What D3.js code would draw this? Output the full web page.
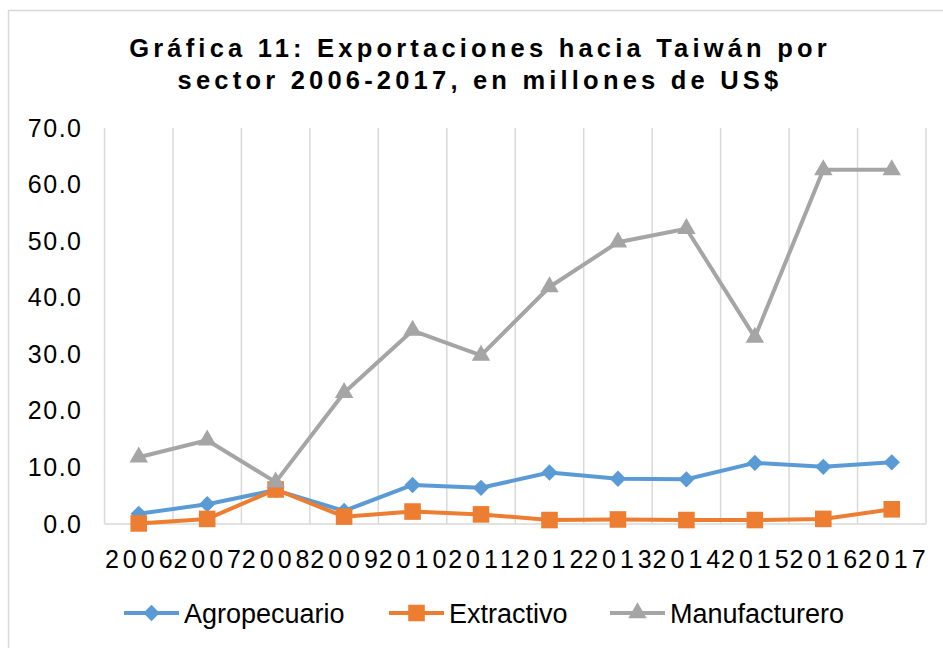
<!DOCTYPE html>
<html>
<head>
<meta charset="utf-8">
<script src="https://cdn.jsdelivr.net/npm/d3@7"></script>
<style>
  body { margin: 0; background: #fff; }
  svg { display: block; font-family: "Liberation Sans", Arial, sans-serif; }
</style>
</head>
<body>
<script>
// data
const years = ["2006","2007","2008","2009","2010","2011","2012","2013","2014","2015","2016","2017"];
const agropecuario = [1.8, 3.5, 6.0, 2.3, 6.9, 6.4, 9.1, 8.0, 7.9, 10.8, 10.1, 10.9];
const extractivo = [0.1, 0.9, 6.1, 1.3, 2.2, 1.7, 0.7, 0.8, 0.7, 0.7, 0.9, 2.6];
const manufacturero = [11.8, 14.8, 7.4, 23.2, 34.2, 29.8, 41.9, 49.8, 52.2, 33.0, 62.6, 62.6];
const yTicks = [0, 10, 20, 30, 40, 50, 60, 70];

const series = [
  { name: "Agropecuario", values: agropecuario, color: "#5b9bd5", symbol: d3.symbolDiamond2, size: 170 },
  { name: "Extractivo", values: extractivo, color: "#ed7d31", symbol: d3.symbolSquare2, size: 350 },
  { name: "Manufacturero", values: manufacturero, color: "#a5a5a5", symbol: d3.symbolTriangle2, size: 245 }
];

const W = 943, H = 648;
const margin = { top: 128, right: 17, bottom: 124, left: 104.5 },
      width = W - margin.left - margin.right,
      height = H - margin.top - margin.bottom;

const svg = d3.select("body").append("svg")
  .attr("width", W)
  .attr("height", H);

// chart border (right / bottom edges are cut off in the picture)
svg.append("rect")
  .attr("x", 8.5).attr("y", 10.5)
  .attr("width", W + 20).attr("height", H + 20)
  .attr("fill", "none")
  .attr("stroke", "#d9d9d9")
  .attr("stroke-width", 1.5);

// title
const title = svg.append("text")
  .attr("text-anchor", "middle")
  .style("font-size", "25.5px")
  .style("font-weight", "bold")
  .style("letter-spacing", "4.2px")
  .attr("fill", "#000");
title.append("tspan").attr("x", 480).attr("y", 57).text("Gráfica 11: Exportaciones hacia Taiwán por");
title.append("tspan").attr("x", 480).attr("y", 89).text("sector 2006-2017, en millones de US$");

const g = svg.append("g")
  .attr("transform", `translate(${margin.left},${margin.top})`);

const x = d3.scaleBand().domain(years).range([0, width]);
const y = d3.scaleLinear().domain([0, 70]).range([height, 0]);

// vertical gridlines at category boundaries
const bounds = years.map(d => x(d)).concat([width]);
g.selectAll(".vgrid")
  .data(bounds)
  .enter().append("line")
  .attr("x1", d => d).attr("x2", d => d)
  .attr("y1", 0).attr("y2", height)
  .attr("stroke", "#d9d9d9")
  .attr("stroke-width", 1.5);

// baseline
g.append("line")
  .attr("x1", 0).attr("x2", width)
  .attr("y1", y(0)).attr("y2", y(0))
  .attr("stroke", "#d9d9d9")
  .attr("stroke-width", 1.5);

// y axis labels
const yAxis = g.append("g")
  .call(d3.axisLeft(y).tickValues(yTicks).tickFormat(d3.format(".1f")).tickSize(0).tickPadding(22));
yAxis.select(".domain").remove();
yAxis.selectAll("text")
  .style("font-size", "25px")
  .style("letter-spacing", "1.5px")
  .style("font-family", "Liberation Sans, Arial, sans-serif")
  .attr("fill", "#000");

// x axis labels
const xAxis = g.append("g")
  .attr("transform", `translate(0,${height})`)
  .call(d3.axisBottom(x).tickSize(0));
xAxis.select(".domain").remove();
xAxis.selectAll("text")
  .style("font-size", "25px")
  .style("letter-spacing", "4px")
  .style("font-family", "Liberation Sans, Arial, sans-serif")
  .attr("y", 44)
  .attr("dy", 0)
  .attr("dx", "2px")
  .attr("fill", "#000");

// lines + markers
const cx = i => x(years[i]) + x.bandwidth() / 2;
const line = d3.line()
  .x((d, i) => cx(i))
  .y(d => y(d));

series.forEach(s => {
  g.append("path")
    .datum(s.values)
    .attr("d", line)
    .attr("fill", "none")
    .attr("stroke", s.color)
    .attr("stroke-width", 4)
    .attr("stroke-linejoin", "round");

  g.selectAll(null)
    .data(s.values)
    .enter().append("path")
    .attr("d", d3.symbol().type(s.symbol).size(s.size))
    .attr("transform", (d, i) => `translate(${cx(i)},${y(d)})`)
    .attr("fill", s.color);
});

// legend
const legendX = [124, 389, 610];
const legend = svg.selectAll(".legend")
  .data(series)
  .enter().append("g")
  .attr("class", "legend")
  .attr("transform", (d, i) => `translate(${legendX[i]},613)`);

legend.append("line")
  .attr("x1", 0).attr("x2", 55)
  .attr("stroke", d => d.color)
  .attr("stroke-width", 4);

legend.append("path")
  .attr("d", d => d3.symbol().type(d.symbol).size(d.size)())
  .attr("transform", "translate(27.5,0)")
  .attr("fill", d => d.color);

legend.append("text")
  .attr("x", 60)
  .attr("y", 10)
  .style("font-size", "27px")
  .attr("fill", "#000")
  .text(d => d.name);
</script>
</body>
</html>
